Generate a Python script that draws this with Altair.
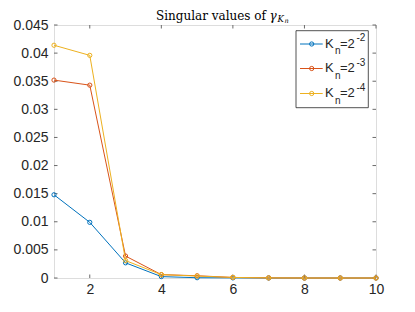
import altair as alt
import pandas as pd

# ---- data ----
x_vals = [1, 2, 3, 4, 5, 6, 7, 8, 9, 10]
series_names = ["K_n=2^-2", "K_n=2^-3", "K_n=2^-4"]
series_exp = ["-2", "-3", "-4"]
blue_vals = [0.0148, 0.0099, 0.0027, 0.00025, 0.00005, 0.00002, 0.0, 0.0, 0.0, 0.0]
red_vals = [0.0352, 0.0343, 0.0039, 0.0006, 0.0004, 0.0001, 0.00002, 0.0, 0.0, 0.0]
yellow_vals = [0.0414, 0.0396, 0.0031, 0.0006, 0.00035, 0.0001, 0.00002, 0.0, 0.0, 0.0]
x_ticks = [2, 4, 6, 8, 10]
y_ticks = [0, 0.005, 0.01, 0.015, 0.02, 0.025, 0.03, 0.035, 0.04, 0.045]
colors = ["#0072BD", "#D95319", "#EDB120"]

W, H = 322, 253
AX = "#262626"
FRAME = "#6a6a6a"
TL = 3.5

xscale = alt.Scale(domain=[1, 10], nice=False, zero=False)
yscale = alt.Scale(domain=[0, 0.045], nice=False, zero=False)
xaxis = alt.Axis(values=x_ticks, tickSize=0, domain=False, grid=False, title=None,
                 labelFont="Liberation Sans", labelFontSize=14, labelColor=AX,
                 labelPadding=4, labelFlush=False)
yaxis = alt.Axis(values=y_ticks, format="~g", tickSize=0, domain=False, grid=False, title=None,
                 labelFont="Liberation Sans", labelFontSize=14, labelColor=AX,
                 labelPadding=6, labelFlush=False)

X = lambda f: alt.X(f, type="quantitative", scale=xscale, axis=xaxis)
Y = lambda f: alt.Y(f, type="quantitative", scale=yscale, axis=yaxis)

layers = []

# inward ticks
xt = pd.DataFrame({"x": x_ticks})
yt = pd.DataFrame({"y": y_ticks})
layers.append(alt.Chart(xt).mark_rule(color=FRAME, strokeWidth=1).encode(
    x=X("x"), y=alt.value(H), y2=alt.value(H - TL)))
layers.append(alt.Chart(xt).mark_rule(color=FRAME, strokeWidth=1).encode(
    x=X("x"), y=alt.value(0), y2=alt.value(TL)))
layers.append(alt.Chart(yt).mark_rule(color=FRAME, strokeWidth=1).encode(
    y=Y("y"), x=alt.value(0), x2=alt.value(TL)))
layers.append(alt.Chart(yt).mark_rule(color=FRAME, strokeWidth=1).encode(
    y=Y("y"), x=alt.value(W), x2=alt.value(W - TL)))

# series
for vals, col in zip([blue_vals, red_vals, yellow_vals], colors):
    d = pd.DataFrame({"x": x_vals, "y": vals})
    layers.append(alt.Chart(d).mark_line(color=col, strokeWidth=1).encode(x=X("x"), y=Y("y")))
    layers.append(alt.Chart(d).mark_point(color=col, shape="circle", filled=False, size=18,
                                          strokeWidth=1, opacity=1).encode(x=X("x"), y=Y("y")))

one = pd.DataFrame({"t": [""]})

# legend box
layers.append(alt.Chart(one).mark_rect(fill="white", stroke=AX, strokeWidth=0.8).encode(
    x=alt.value(242), x2=alt.value(314.3), y=alt.value(5.7), y2=alt.value(82.7)))
row_y = [19, 43.5, 68.5]
for ry, col, ex in zip(row_y, colors, series_exp):
    layers.append(alt.Chart(one).mark_rule(color=col, strokeWidth=1).encode(
        x=alt.value(246), x2=alt.value(268.7), y=alt.value(ry)))
    layers.append(alt.Chart(one).mark_point(color=col, shape="circle", filled=False, size=18,
                                            strokeWidth=1, opacity=1).encode(
        x=alt.value(257.7), y=alt.value(ry)))
    for txt, xx, dy, fs in [("K", 271, 3.5, 13), ("n", 281, 10, 10), ("=2", 286, 3.5, 13), (ex, 302.5, -3, 10)]:
        layers.append(alt.Chart(pd.DataFrame({"t": [txt]})).mark_text(
            font="Liberation Sans", fontSize=fs, color=AX, align="left", baseline="alphabetic").encode(
            x=alt.value(xx), y=alt.value(ry + dy), text="t:N"))

# title
for txt, xx, yy, fs, st, al in [("Singular values of", 212, -5.5, 12, "normal", "right"),
                                ("γ", 215.5, -5.5, 12, "italic", "left"),
                                ("K", 223.5, -3.5, 8.5, "italic", "left"),
                                ("n", 230.5, -2.5, 6.5, "italic", "left")]:
    layers.append(alt.Chart(pd.DataFrame({"t": [txt]})).mark_text(
        font="DejaVu Serif", fontSize=fs, fontStyle=st, color="#000000", align=al,
        baseline="alphabetic").encode(x=alt.value(xx), y=alt.value(yy), text="t:N"))

chart = alt.layer(*layers).properties(
    width=W, height=H,
    autosize=alt.AutoSizeParams(type="none"),
    padding={"left": 46, "top": 17, "right": 30, "bottom": 26},
).configure_view(stroke=FRAME, strokeWidth=1).configure(background="white")

chart.save("out.html", embed_options={"renderer": "svg", "actions": False})
